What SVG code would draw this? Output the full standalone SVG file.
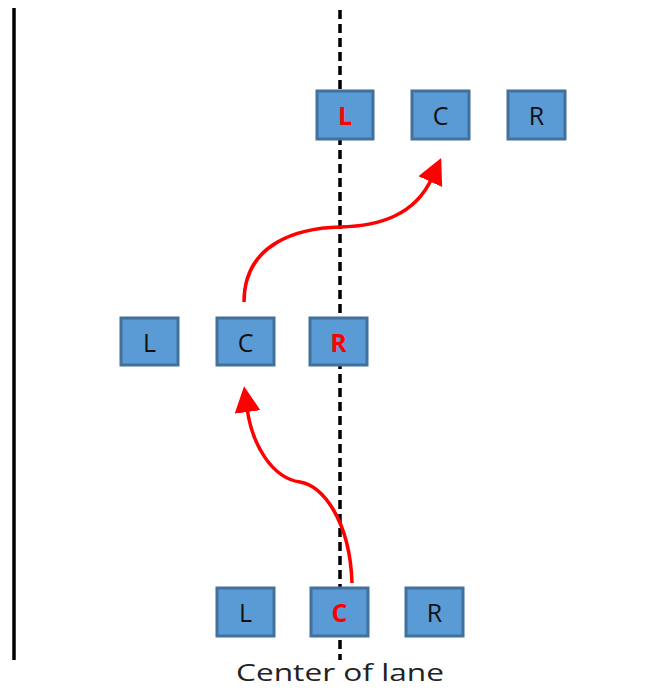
<svg xmlns="http://www.w3.org/2000/svg" width="653" height="690" viewBox="0 0 653 690">
<style>
.box{fill:#5b9bd5;stroke:#41719c;stroke-width:3}
.lbl{font-family:"Open Sans","Liberation Sans",sans-serif;font-size:25px;fill:#111;text-anchor:middle;dominant-baseline:central}
.hl{fill:#ff0000;font-weight:bold}
.arrow{fill:none;stroke:#ff0000;stroke-width:3.5}
</style>
<defs>
<marker id="ah" markerUnits="userSpaceOnUse" markerWidth="30" markerHeight="30" refX="4" refY="13" orient="auto">
<path d="M0,0 L26,13 L0,26 Z" fill="#ff0000"/>
</marker>
</defs>
<rect width="653" height="690" fill="#ffffff"/>
<line x1="14" y1="8" x2="14" y2="660" stroke="#000" stroke-width="3.5"/>
<line x1="340" y1="10" x2="340" y2="660" stroke="#000" stroke-width="3.5" stroke-dasharray="9,5"/>
<g id="top-L"><rect class="box" x="317" y="91" width="56" height="48"/><text class="lbl hl" x="345" y="115">L</text></g>
<g id="top-C"><rect class="box" x="412" y="91" width="57" height="48"/><text class="lbl" x="440.5" y="115">C</text></g>
<g id="top-R"><rect class="box" x="508" y="91" width="57" height="48"/><text class="lbl" x="536.5" y="115">R</text></g>
<g id="mid-L"><rect class="box" x="121" y="318" width="57" height="47"/><text class="lbl" x="149.5" y="341.5">L</text></g>
<g id="mid-C"><rect class="box" x="217" y="318" width="57" height="47"/><text class="lbl" x="245.5" y="341.5">C</text></g>
<g id="mid-R"><rect class="box" x="310" y="318" width="57" height="47"/><text class="lbl hl" x="338.5" y="341.5">R</text></g>
<g id="bot-L"><rect class="box" x="217" y="588" width="57" height="48"/><text class="lbl" x="245.5" y="612">L</text></g>
<g id="bot-C"><rect class="box" x="311" y="588" width="57" height="48"/><text class="lbl hl" x="339.5" y="612">C</text></g>
<g id="bot-R"><rect class="box" x="406" y="588" width="57" height="48"/><text class="lbl" x="434.5" y="612">R</text></g>
<g id="connectors">
<path class="arrow" marker-end="url(#ah)" d="M352,583 C350,520 322,485 300,482 C272,478 252,445 247,408"/>
<path class="arrow" marker-end="url(#ah)" d="M244,302 C244,242 300,228 340,227 C380,226 415,215 432,178"/>
</g>
<text x="340" y="681" font-family="'Open Sans','Liberation Sans',sans-serif" font-size="24" fill="#222" text-anchor="middle" textLength="208" lengthAdjust="spacingAndGlyphs">Center of lane</text>
</svg>
